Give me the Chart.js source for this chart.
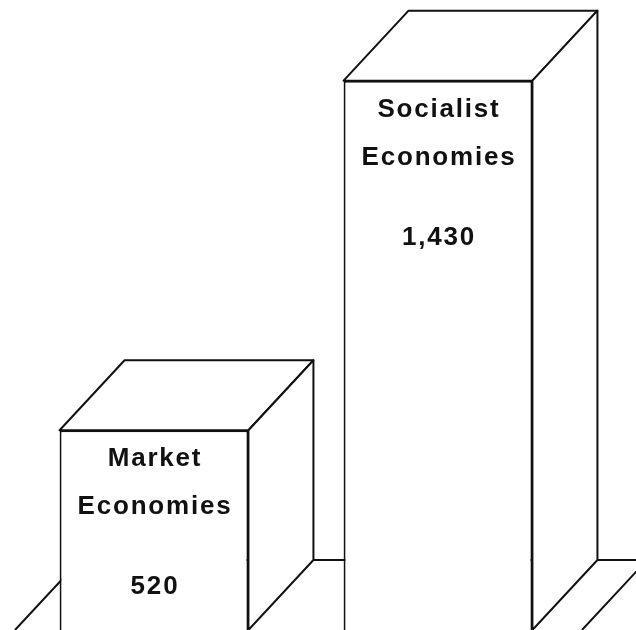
<!DOCTYPE html>
<html>
<head>
<meta charset="utf-8">
<script src="https://cdn.jsdelivr.net/npm/chart.js@4"></script>
<style>
  html, body { margin: 0; padding: 0; background: #fff; }
  #wrap { width: 636px; height: 630px; }
</style>
</head>
<body>
<div id="wrap"><canvas id="myChart"></canvas></div>
<script>
// chart data
// --------------------------------------------
const categories = ['Market Economies', 'Socialist Economies']
const labelLines = [['Market', 'Economies'], ['Socialist', 'Economies']]
const values = [520, 1430]
const valueLabels = ['520', '1,430']

// look of the boxes
// --------------------------------------------
const depthX = 65
const depthY = 70
const edge = '#111'
const font = 'bold 26px "Liberation Sans", Arial, sans-serif'

// draws floor, top + side faces and the texts
// --------------------------------------------
const cubePlugin = {
    id: 'cube',
    beforeDatasetsDraw(chart) {
        const ctx = chart.ctx
        const x = chart.scales.x
        const base = chart.scales.y.getPixelForValue(0)
        const left = x.left + 3
        const right = x.right + 2
        ctx.save()
        ctx.strokeStyle = edge
        ctx.lineWidth = 2
        ctx.beginPath()
        ctx.moveTo(left, base)
        ctx.lineTo(left + depthX, base - depthY)
        ctx.lineTo(right + depthX, base - depthY)
        ctx.lineTo(right, base)
        ctx.stroke()
        ctx.restore()
    },
    afterDatasetsDraw(chart) {
        const ctx = chart.ctx
        const meta = chart.getDatasetMeta(0)
        ctx.save()
        ctx.strokeStyle = edge
        ctx.fillStyle = '#fff'
        ctx.lineWidth = 2
        ctx.lineJoin = 'round'
        meta.data.forEach((bar, i) => {
            const p = bar.getProps(['x', 'y', 'base', 'width'], true)
            const l = p.x - p.width / 2
            const r = p.x + p.width / 2
            const t = p.y
            const b = p.base

            // top face
            ctx.beginPath()
            ctx.moveTo(l, t)
            ctx.lineTo(l + depthX, t - depthY)
            ctx.lineTo(r + depthX, t - depthY)
            ctx.lineTo(r, t)
            ctx.closePath()
            ctx.fill()
            ctx.stroke()

            // side face
            ctx.beginPath()
            ctx.moveTo(r, t)
            ctx.lineTo(r + depthX, t - depthY)
            ctx.lineTo(r + depthX, b - depthY)
            ctx.lineTo(r, b)
            ctx.closePath()
            ctx.fill()
            ctx.stroke()

            // texts
            ctx.save()
            ctx.fillStyle = edge
            ctx.font = font
            ctx.letterSpacing = '1.8px'
            ctx.textAlign = 'center'
            ctx.textBaseline = 'middle'
            ctx.fillText(labelLines[i][0], p.x + 1, t + 29)
            ctx.fillText(labelLines[i][1], p.x + 1, t + 77)
            ctx.fillText(valueLabels[i], p.x + 1, t + 157)
            ctx.restore()
        })
        ctx.restore()
    }
}

// main
// --------------------------------------------
const canvas = document.getElementById('myChart')
const myChart = new Chart(canvas.getContext('2d'), {
    type: 'bar',
    data: {
        labels: categories,
        datasets: [{
            data: values,
            backgroundColor: '#fff',
            borderColor: edge,
            borderWidth: 2,
            borderSkipped: 'bottom',
            barPercentage: 0.665,
            categoryPercentage: 1
        }]
    },
    options: {
        responsive: true,
        maintainAspectRatio: false,
        animation: false,
        layout: { padding: { left: 12, right: 56, top: 0, bottom: 0 } },
        plugins: {
            legend: { display: false },
            tooltip: { enabled: false }
        },
        scales: {
            x: { display: false },
            y: { display: false, min: 0, max: 1640 }
        }
    },
    plugins: [cubePlugin]
})
</script>
</body>
</html>
